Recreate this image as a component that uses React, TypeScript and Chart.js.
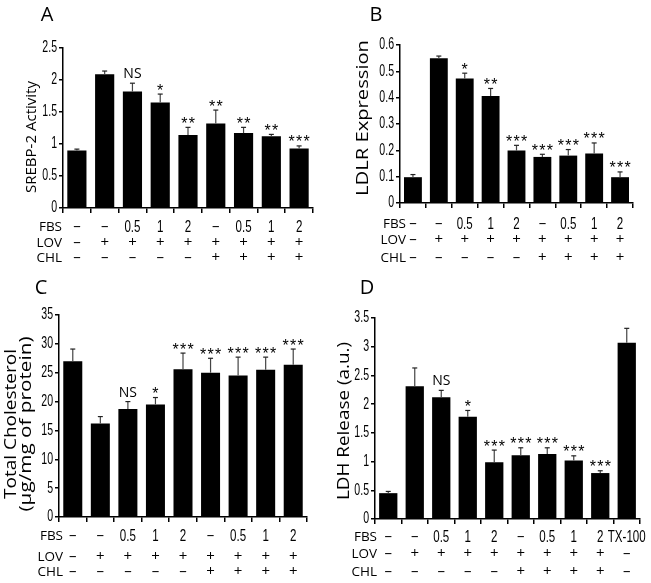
import React, { useEffect, useRef } from "react";
import { Chart, registerables } from "chart.js";

Chart.register(...registerables);

const NUMF = '"Liberation Sans", "Arial", sans-serif';
const SANS = '"Open Sans", "Noto Sans", "DejaVu Sans", sans-serif';
const STAR = '"Liberation Sans", "DejaVu Sans", sans-serif';

// ---------- data ----------
const groups9 = ["G1", "G2", "G3", "G4", "G5", "G6", "G7", "G8", "G9"];
const groups10 = ["G1", "G2", "G3", "G4", "G5", "G6", "G7", "G8", "G9", "G10"];

const fbsRow = ["–", "–", "0.5", "1", "2", "–", "0.5", "1", "2"];
const lovRow = ["–", "+", "+", "+", "+", "+", "+", "+", "+"];
const chlRow = ["–", "–", "–", "–", "–", "+", "+", "+", "+"];
const fbsRowD = ["–", "–", "0.5", "1", "2", "–", "0.5", "1", "2", "TX-100"];
const lovRowD = ["–", "+", "+", "+", "+", "+", "+", "+", "+", "–"];
const chlRowD = ["–", "–", "–", "–", "–", "+", "+", "+", "+", "–"];
const rowNames = ["FBS", "LOV", "CHL"];

const srebpMean = [0.9, 2.09, 1.82, 1.65, 1.14, 1.32, 1.17, 1.12, 0.93];
const srebpErr = [0.02, 0.05, 0.13, 0.13, 0.12, 0.21, 0.09, 0.03, 0.04];
const srebpSig = ["", "", "NS", "*", "**", "**", "**", "**", "***"];

const ldlrMean = [0.098, 0.55, 0.473, 0.406, 0.199, 0.175, 0.18, 0.188, 0.098];
const ldlrErr = [0.01, 0.008, 0.02, 0.029, 0.02, 0.01, 0.023, 0.04, 0.02];
const ldlrSig = ["", "", "*", "**", "***", "***", "***", "***", "***"];

const cholMean = [27, 16.2, 18.7, 19.5, 25.6, 25, 24.5, 25.5, 26.4];
const cholErr = [2.1, 1.2, 1.3, 1.2, 2.8, 2.5, 3.2, 2.2, 2.7];
const cholSig = ["", "", "NS", "*", "***", "***", "***", "***", "***"];

const ldhMean = [0.45, 2.31, 2.12, 1.78, 0.99, 1.11, 1.13, 1.02, 0.8, 3.07];
const ldhErr = [0.03, 0.32, 0.12, 0.11, 0.21, 0.13, 0.11, 0.08, 0.04, 0.25];
const ldhSig = ["", "", "NS", "*", "***", "***", "***", "***", "***", ""];

// ---------- panel layout (page coordinates) ----------
const panels = [
  {
    id: "A", labels: groups9, mean: srebpMean, err: srebpErr, sig: srebpSig,
    rows: [fbsRow, lovRow, chlRow], yMax: 2.5, step: 0.5,
    box: { x: 0, y: 0, w: 326, h: 275 }, area: { l: 63, t: 48, r: 313, b: 208 },
    title: ["SREBP-2 Activity"], titleX: [32], titleY: 137, titleLen: [112], titleSize: 14,
    letterPos: [47, 15], rowY: [227, 243, 258], rowLabelRight: 62,
  },
  {
    id: "B", labels: groups9, mean: ldlrMean, err: ldlrErr, sig: ldlrSig,
    rows: [fbsRow, lovRow, chlRow], yMax: 0.6, step: 0.1,
    box: { x: 326, y: 0, w: 325, h: 275 }, area: { l: 400, t: 45, r: 633, b: 203 },
    title: ["LDLR Expression"], titleX: [363], titleY: 118, titleLen: [156], titleSize: 16.5,
    letterPos: [376, 15], rowY: [224, 240, 258], rowLabelRight: 406,
  },
  {
    id: "C", labels: groups9, mean: cholMean, err: cholErr, sig: cholSig,
    rows: [fbsRow, lovRow, chlRow], yMax: 35, step: 5,
    box: { x: 0, y: 275, w: 326, h: 308 }, area: { l: 59, t: 315, r: 307, b: 517 },
    title: ["Total Cholesterol", "(µg/mg of protein)"], titleX: [12, 27], titleY: 424, titleLen: [150, 175], titleSize: 15.5,
    letterPos: [41, 288], rowY: [536, 557, 572], rowLabelRight: 63,
  },
  {
    id: "D", labels: groups10, mean: ldhMean, err: ldhErr, sig: ldhSig,
    rows: [fbsRowD, lovRowD, chlRowD], yMax: 3.5, step: 0.5,
    box: { x: 326, y: 275, w: 325, h: 308 }, area: { l: 375, t: 318, r: 640, b: 519 },
    title: ["LDH Release (a.u.)"], titleX: [345], titleY: 421, titleLen: [158], titleSize: 15.5,
    letterPos: [367, 288], rowY: [537, 554, 572], rowLabelRight: 377,
  },
];

const Y_W = 40;

function vText(ctx: CanvasRenderingContext2D, text: string, cx: number, cy: number, len: number, font: string) {
  ctx.save();
  ctx.font = font;
  const w = ctx.measureText(text).width;
  ctx.translate(cx, cy);
  ctx.rotate(-Math.PI / 2);
  ctx.scale(len / w, 1);
  ctx.textAlign = "center";
  ctx.textBaseline = "middle";
  ctx.fillStyle = "#000";
  ctx.fillText(text, 0, 0);
  ctx.restore();
}

// horizontally condensed text (the figure uses a narrow face)
function nText(ctx: CanvasRenderingContext2D, text: string, x: number, y: number, align: CanvasTextAlign, size: number, sx = 0.72) {
  ctx.save();
  ctx.translate(x, y);
  ctx.scale(sx, 1);
  ctx.font = `${size}px ${NUMF}`;
  ctx.textAlign = align;
  ctx.textBaseline = "middle";
  ctx.fillStyle = "#000";
  ctx.fillText(text, 0, 0);
  ctx.restore();
}

function Panel({ cfg }: { cfg: any }) {
  const ref = useRef<HTMLCanvasElement>(null);
  useEffect(() => {
    const { box, area } = cfg;
    const ox = box.x, oy = box.y;
    const xH = box.y + box.h - area.b;
    const decor = {
      id: "decor" + cfg.id,
      afterDatasetsDraw(chart: any) {
        const ctx = chart.ctx as CanvasRenderingContext2D;
        const xs = chart.scales.x, ys = chart.scales.y;
        const meta = chart.getDatasetMeta(0);
        // y tick labels
        ys.ticks.forEach((t: any) => {
          const y = ys.getPixelForValue(t.value);
          const lab = String(Number(t.value.toFixed(2)));
          nText(ctx, lab, chart.chartArea.left - 6, y, "right", 16, 0.66);
        });
        // error bars + significance
        cfg.mean.forEach((m: number, i: number) => {
          const x = meta.data[i].x;
          const y0 = ys.getPixelForValue(m);
          const y1 = ys.getPixelForValue(m + cfg.err[i]);
          ctx.save();
          ctx.strokeStyle = "#444";
          ctx.lineWidth = 1.2;
          ctx.beginPath();
          ctx.moveTo(x, y0);
          ctx.lineTo(x, y1);
          ctx.stroke();
          ctx.strokeStyle = "#222";
          ctx.beginPath();
          ctx.moveTo(x - 2.5, y1);
          ctx.lineTo(x + 2.5, y1);
          ctx.stroke();
          const s = cfg.sig[i];
          if (s) {
            ctx.fillStyle = "#000";
            ctx.textAlign = "center";
            ctx.textBaseline = "alphabetic";
            if (s === "NS") {
              ctx.font = `14px ${SANS}`;
              ctx.fillText(s, x, y1 - 5);
            } else {
              ctx.font = `16px ${STAR}`;
              const gap = 7.5;
              for (let k = 0; k < s.length; k++) {
                ctx.fillText("*", x + (k - (s.length - 1) / 2) * gap, y1 + 1.5);
              }
            }
          }
          ctx.restore();
        });
        // treatment table
        ctx.save();
        ctx.fillStyle = "#000";
        ctx.textBaseline = "middle";
        cfg.rows.forEach((row: string[], r: number) => {
          const yy = cfg.rowY[r] - oy;
          ctx.textAlign = "right";
          ctx.font = `13.5px ${SANS}`;
          ctx.fillText(rowNames[r], cfg.rowLabelRight - ox, yy);
          row.forEach((v: string, i: number) => {
            const x = xs.getPixelForValue(i);
            if (v === "+" || v === "–") {
              ctx.textAlign = "center";
              ctx.font = `15px ${SANS}`;
              ctx.fillText(v, x, yy);
            } else {
              nText(ctx, v, x, yy, "center", 16.5, 0.7);
            }
          });
        });
        ctx.restore();
        // axis title
        cfg.title.forEach((t: string, k: number) => {
          vText(ctx, t, cfg.titleX[k] - ox, cfg.titleY - oy, cfg.titleLen[k], `${cfg.titleSize}px ${SANS}`);
        });
        // panel letter
        ctx.save();
        ctx.fillStyle = "#000";
        ctx.font = `20px ${SANS}`;
        ctx.textAlign = "center";
        ctx.textBaseline = "middle";
        ctx.fillText(cfg.id, cfg.letterPos[0] - ox, cfg.letterPos[1] - oy);
        ctx.restore();
      },
    };
    const chart = new Chart(ref.current as HTMLCanvasElement, {
      type: "bar",
      data: {
        labels: cfg.labels,
        datasets: [
          {
            data: cfg.mean,
            backgroundColor: "#000",
            borderWidth: 0,
            barPercentage: 0.69,
            categoryPercentage: 1,
          },
        ],
      },
      options: {
        responsive: false,
        animation: false,
        devicePixelRatio: 1,
        layout: {
          padding: {
            left: area.l - ox - Y_W,
            top: area.t - oy,
            right: ox + box.w - area.r,
            bottom: 0,
          },
        },
        plugins: { legend: { display: false }, tooltip: { enabled: false } },
        scales: {
          x: {
            type: "category",
            offset: true,
            grid: {
              display: true,
              offset: true,
              drawOnChartArea: false,
              drawTicks: true,
              tickLength: 5,
              color: "#000",
              lineWidth: 1.5,
            },
            border: { display: true, color: "#000", width: 1.5 },
            ticks: { display: false },
            afterFit: (s: any) => {
              s.height = xH;
            },
          },
          y: {
            min: 0,
            max: cfg.yMax,
            ticks: { stepSize: cfg.step, display: false },
            grid: { drawOnChartArea: false, drawTicks: true, tickLength: 4, color: "#000", lineWidth: 1.5 },
            border: { display: true, color: "#000", width: 1.5 },
            afterFit: (s: any) => {
              s.width = Y_W;
            },
          },
        },
      },
      plugins: [decor],
    } as any);
    return () => chart.destroy();
  }, [cfg]);
  return (
    <canvas
      ref={ref}
      width={cfg.box.w}
      height={cfg.box.h}
      style={{ position: "absolute", left: cfg.box.x, top: cfg.box.y, width: cfg.box.w, height: cfg.box.h }}
    />
  );
}

export default function App() {
  return (
    <div style={{ position: "absolute", left: 0, top: 0, width: 651, height: 583, background: "#fff", overflow: "hidden" }}>
      {panels.map((p) => (
        <Panel key={p.id} cfg={p} />
      ))}
    </div>
  );
}
